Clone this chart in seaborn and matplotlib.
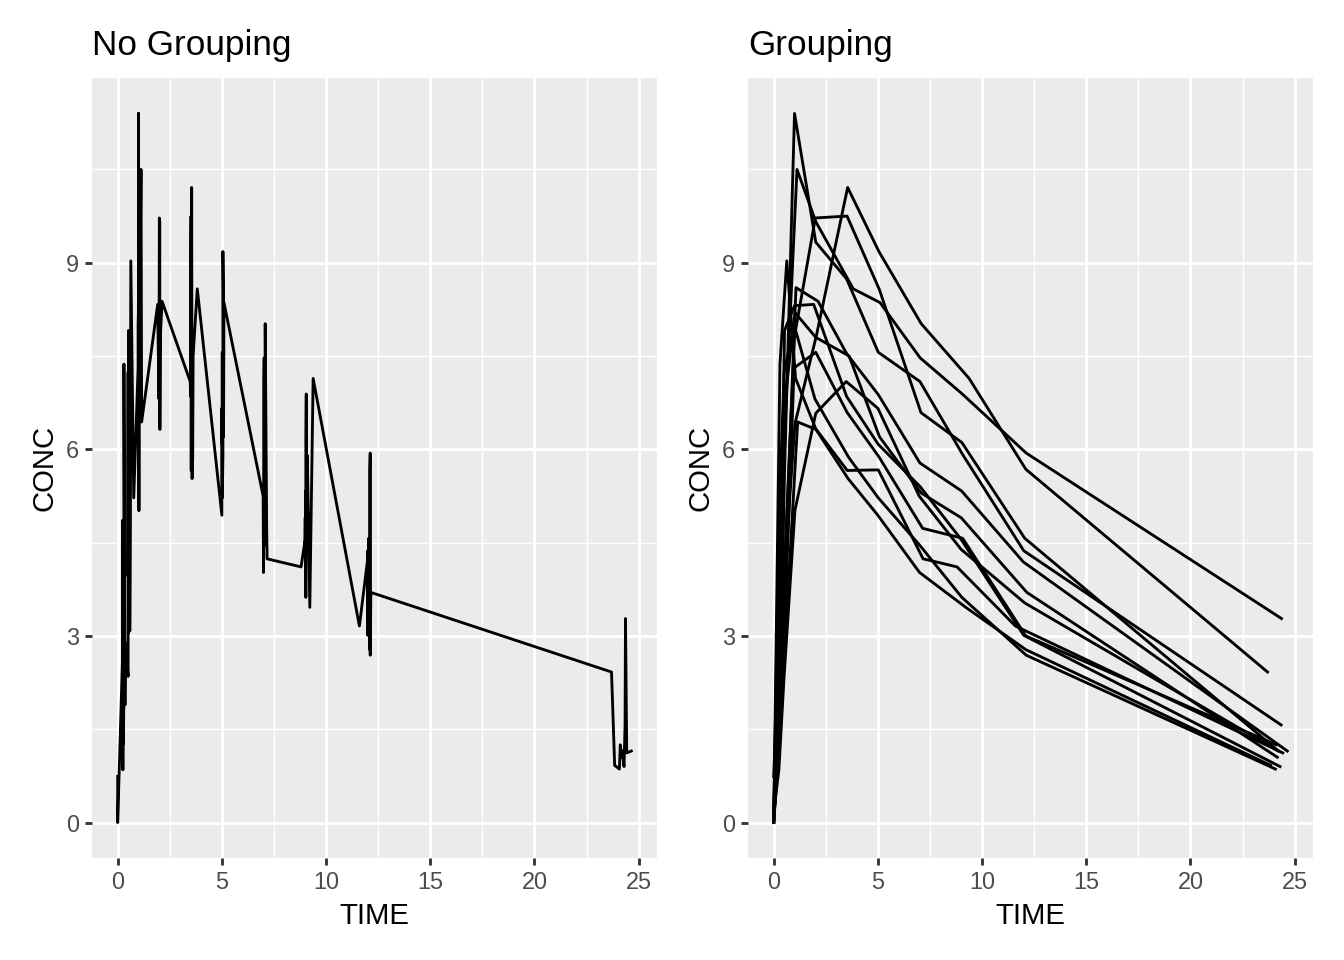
import numpy as np
import pandas as pd
import matplotlib
matplotlib.use("Agg")
import matplotlib.pyplot as plt
import seaborn as sns

# Theophylline data: 12 subjects, 11 samples each
SUBJECTS = [1, 2, 3, 4, 5, 6, 7, 8, 9, 10, 11, 12]
TIME = [
    [0.00, 0.25, 0.57, 1.12, 2.02, 3.82, 5.10, 7.03, 9.05, 12.12, 24.37],
    [0.00, 0.27, 0.52, 1.00, 1.92, 3.50, 5.02, 7.03, 9.00, 12.00, 24.30],
    [0.00, 0.27, 0.58, 1.02, 2.02, 3.62, 5.08, 7.07, 9.00, 12.15, 24.17],
    [0.00, 0.35, 0.60, 1.07, 2.13, 3.50, 5.02, 7.02, 9.02, 11.98, 24.65],
    [0.00, 0.30, 0.52, 1.00, 2.02, 3.50, 5.02, 7.02, 9.10, 12.00, 24.35],
    [0.00, 0.27, 0.58, 1.15, 2.03, 3.57, 5.00, 7.00, 9.22, 12.10, 23.85],
    [0.00, 0.25, 0.50, 1.02, 2.02, 3.48, 5.00, 6.98, 9.00, 12.05, 24.22],
    [0.00, 0.25, 0.52, 0.98, 2.02, 3.53, 5.05, 7.15, 9.07, 12.10, 24.12],
    [0.00, 0.30, 0.63, 1.05, 2.02, 3.53, 5.02, 7.17, 8.80, 11.60, 24.43],
    [0.00, 0.37, 0.77, 1.02, 2.05, 3.55, 5.05, 7.08, 9.38, 12.10, 23.70],
    [0.00, 0.25, 0.50, 0.98, 1.98, 3.60, 5.02, 7.03, 9.03, 12.12, 24.08],
    [0.00, 0.25, 0.50, 1.00, 2.00, 3.52, 5.07, 7.07, 9.03, 12.05, 24.15],
]
CONC = [
    [0.74, 2.84, 6.57, 10.50, 9.66, 8.58, 8.36, 7.47, 6.89, 5.94, 3.28],
    [0.00, 1.72, 7.91, 8.31, 8.33, 6.85, 6.08, 5.40, 4.55, 3.01, 0.90],
    [0.00, 4.40, 6.90, 8.20, 7.80, 7.50, 6.20, 5.30, 4.90, 3.70, 1.05],
    [0.00, 1.89, 4.60, 8.60, 8.38, 7.54, 6.88, 5.78, 5.33, 4.19, 1.15],
    [0.00, 2.02, 5.63, 11.40, 9.33, 8.74, 7.56, 7.09, 5.90, 4.37, 1.57],
    [0.00, 1.29, 3.08, 6.44, 6.32, 5.53, 4.94, 4.02, 3.46, 2.78, 0.92],
    [0.15, 0.85, 2.35, 5.02, 6.58, 7.09, 6.66, 5.25, 4.39, 3.53, 1.15],
    [0.00, 3.05, 3.05, 7.31, 7.56, 6.59, 5.88, 4.73, 4.57, 3.00, 1.25],
    [0.00, 7.37, 9.03, 7.14, 6.33, 5.66, 5.67, 4.24, 4.11, 3.16, 1.12],
    [0.24, 2.89, 5.22, 6.41, 7.83, 10.21, 9.18, 8.02, 7.14, 5.68, 2.42],
    [0.00, 4.86, 7.24, 8.00, 6.81, 5.87, 5.22, 4.45, 3.62, 2.69, 0.86],
    [0.00, 1.25, 3.96, 7.82, 9.72, 9.75, 8.57, 6.59, 6.11, 4.57, 1.17],
]
X_TICKS = [0, 5, 10, 15, 20, 25]
Y_TICKS = [0, 3, 6, 9]

rows = []
for s, ts, cs in zip(SUBJECTS, TIME, CONC):
    for t, c in zip(ts, cs):
        rows.append({"Subject": s, "TIME": t, "CONC": c})
df = pd.DataFrame(rows)

plt.rcParams["font.family"] = ["Liberation Sans", "DejaVu Sans"]

fig = plt.figure(figsize=(7, 5), dpi=192)
ax1 = fig.add_axes([92 / 1344, 1 - 858 / 960, 565 / 1344, 780 / 960])
ax2 = fig.add_axes([748 / 1344, 1 - 858 / 960, 565 / 1344, 780 / 960])

LW = 0.5 * 72.27 / 25.4 * 72 / 96

# No grouping: connect all points ordered by time (stable)
df_sorted = df.sort_values("TIME", kind="mergesort")
sns.lineplot(data=df_sorted, x="TIME", y="CONC", estimator=None, sort=False,
             color="black", linewidth=LW, ax=ax1)
sns.lineplot(data=df, x="TIME", y="CONC", units="Subject", estimator=None,
             color="black", linewidth=LW, ax=ax2)

xmin, xmax = df["TIME"].min(), df["TIME"].max()
ymin, ymax = df["CONC"].min(), df["CONC"].max()
xpad = (xmax - xmin) * 0.05
ypad = (ymax - ymin) * 0.05

for ax, title in [(ax1, "No Grouping"), (ax2, "Grouping")]:
    ax.set_facecolor("#EBEBEB")
    ax.set_xlim(xmin - xpad, xmax + xpad)
    ax.set_ylim(ymin - ypad, ymax + ypad)
    ax.set_xticks(X_TICKS)
    ax.set_yticks(Y_TICKS)
    ax.set_xticks([2.5, 7.5, 12.5, 17.5, 22.5], minor=True)
    ax.set_yticks([1.5, 4.5, 7.5, 10.5], minor=True)
    ax.grid(which="major", color="white", linewidth=LW)
    ax.grid(which="minor", color="white", linewidth=LW / 2)
    ax.set_axisbelow(True)
    for sp in ax.spines.values():
        sp.set_visible(False)
    ax.tick_params(which="major", length=2.75, width=LW, color="#333333",
                   labelsize=8.8, labelcolor="#4D4D4D", pad=2.2)
    ax.tick_params(which="minor", length=0)
    ax.set_xlabel("TIME", fontsize=11, labelpad=2.75)
    ax.set_ylabel("CONC", fontsize=11, labelpad=2.75)
    ax.set_title(title, loc="left", fontsize=13.2, pad=8.8)

fig.savefig("out.png", dpi=192, facecolor="white")
